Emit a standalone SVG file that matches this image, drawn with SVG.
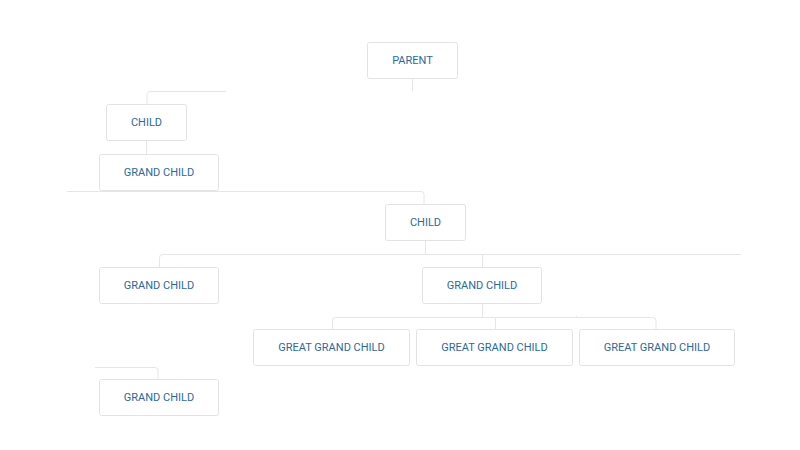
<svg xmlns="http://www.w3.org/2000/svg" width="800" height="450" viewBox="0 0 800 450">
<style>
.n rect{fill:#fff;stroke:#e3e3e3;stroke-width:1}
.n text{font-family:Roboto,"Liberation Sans",sans-serif;font-size:11px;fill:#2a6a9e;text-anchor:middle;dominant-baseline:central}
.c path{fill:none;stroke:#e6e6e6;stroke-width:1}
</style>
<rect width="800" height="450" fill="#fff"/>
<g class="c">
<path d="M412.5 78V91"/>
<path d="M226 91.5H150a3 3 0 0 0-3 3V104"/>
<path d="M146.5 140V154"/>
<path d="M67 191.5H421a3 3 0 0 1 3 3V204"/>
<path d="M425.5 240V254"/>
<path d="M159.5 267V257.5a3 3 0 0 1 3-3H741"/>
<path d="M482.5 254V267"/>
<path d="M482.5 303V317"/>
<path d="M332.5 329V320.5a3 3 0 0 1 3-3H653a3 3 0 0 1 3 3V329"/>
<path d="M495.5 317.5V329"/>
<path d="M576.5 316V318"/>
<path d="M95 367.5H155a3 3 0 0 1 3 3V379"/>
</g>
<g id="parent" class="n"><rect x="367.5" y="42.5" width="90" height="36" rx="2"/><text x="412.5" y="60.5">PARENT</text></g>
<g id="child1" class="n"><rect x="106.5" y="104.5" width="80" height="36" rx="2"/><text x="146.5" y="122.5">CHILD</text></g>
<g id="grandchild1" class="n"><rect x="99.5" y="154.5" width="119" height="36" rx="2"/><text x="159" y="172.5">GRAND CHILD</text></g>
<g id="child2" class="n"><rect x="385.5" y="204.5" width="80" height="36" rx="2"/><text x="425.5" y="222.5">CHILD</text></g>
<g id="grandchild2" class="n"><rect x="99.5" y="267.5" width="119" height="36" rx="2"/><text x="159" y="285">GRAND CHILD</text></g>
<g id="grandchild3" class="n"><rect x="422.5" y="267.5" width="119" height="36" rx="2"/><text x="482" y="285">GRAND CHILD</text></g>
<g id="greatgrandchild1" class="n"><rect x="253.5" y="329.5" width="156" height="36" rx="2"/><text x="331.5" y="347.5">GREAT GRAND CHILD</text></g>
<g id="greatgrandchild2" class="n"><rect x="416.5" y="329.5" width="156" height="36" rx="2"/><text x="494.5" y="347.5">GREAT GRAND CHILD</text></g>
<g id="greatgrandchild3" class="n"><rect x="579.5" y="329.5" width="155" height="36" rx="2"/><text x="657" y="347.5">GREAT GRAND CHILD</text></g>
<g id="grandchild4" class="n"><rect x="99.5" y="379.5" width="119" height="36" rx="2"/><text x="159" y="397.5">GRAND CHILD</text></g>
</svg>
